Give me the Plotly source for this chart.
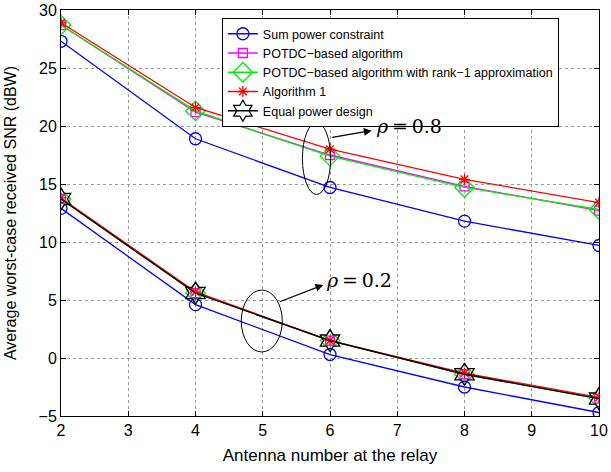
import plotly.graph_objects as go

antennas = [2, 4, 6, 8, 10]

# rho = 0.8
sum_power_08 = [27.3, 18.9, 14.7, 11.8, 9.7]
potdc_08 = [28.7, 21.2, 17.5, 14.8, 12.7]
rank1_08 = [28.7, 21.3, 17.4, 14.7, 12.8]
alg1_08 = [28.9, 21.6, 18.0, 15.4, 13.4]

# rho = 0.2
sum_power_02 = [12.9, 4.6, 0.3, -2.5, -4.7]
potdc_02 = [13.7, 5.6, 1.5, -1.4, -3.5]
rank1_02 = [13.7, 5.6, 1.5, -1.4, -3.5]
alg1_02 = [13.8, 5.7, 1.5, -1.3, -3.4]
equal_02 = [13.7, 5.6, 1.5, -1.4, -3.5]

x_ticks = [2, 3, 4, 5, 6, 7, 8, 9, 10]
y_ticks = [-5, 0, 5, 10, 15, 20, 25, 30]

series = [
    ("Sum power constraint", sum_power_08, sum_power_02, "#0000ff", "circle-open", 12),
    ("POTDC\u2212based algorithm", potdc_08, potdc_02, "#ff00ff", "square-open", 9),
    ("POTDC\u2212based algorithm with rank\u22121 approximation", rank1_08, rank1_02, "#00ee00", "diamond-open", 15),
    ("Algorithm 1", alg1_08, alg1_02, "#ff0000", "asterisk-open", 9),
]

fig = go.Figure()
for name, y08, y02, color, sym, size in series:
    fig.add_trace(go.Scatter(
        x=antennas, y=y08, name=name, mode="lines+markers",
        line=dict(color=color, width=1.3),
        marker=dict(symbol=sym, size=size, color=color, line=dict(color=color, width=1.3)),
        showlegend=True))
    fig.add_trace(go.Scatter(
        x=antennas, y=y02, name=name, mode="lines+markers",
        line=dict(color=color, width=1.3),
        marker=dict(symbol=sym, size=size, color=color, line=dict(color=color, width=1.3)),
        showlegend=False))

fig.add_trace(go.Scatter(
    x=antennas, y=equal_02, name="Equal power design", mode="lines+markers",
    line=dict(color="black", width=1.3),
    marker=dict(symbol="hexagram-open", size=17, color="black", line=dict(color="black", width=1.3)),
    showlegend=True))

# ellipses
fig.add_shape(type="circle", xref="x", yref="y", x0=5.59, x1=6.01, y0=14.1, y1=20.3,
              line=dict(color="black", width=1))
fig.add_shape(type="circle", xref="x", yref="y", x0=4.68, x1=5.29, y0=0.52, y1=5.86,
              line=dict(color="black", width=1))

# arrows
fig.add_annotation(x=6.62, y=19.6, ax=6.01, ay=19.0, xref="x", yref="y", axref="x", ayref="y",
                   showarrow=True, arrowhead=2, arrowsize=1.2, arrowwidth=1.3, arrowcolor="black", text="")
fig.add_annotation(x=5.9, y=6.3, ax=5.23, ay=4.8, xref="x", yref="y", axref="x", ayref="y",
                   showarrow=True, arrowhead=2, arrowsize=1.2, arrowwidth=1.3, arrowcolor="black", text="")
fig.add_annotation(x=6.66, y=20.0, xref="x", yref="y", text="<i>\u03c1</i>\u2009=\u20090.8", showarrow=False,
                   xanchor="left", yanchor="middle",
                   font=dict(family="DejaVu Serif", size=19, color="black"))
fig.add_annotation(x=5.91, y=6.7, xref="x", yref="y", text="<i>\u03c1</i>\u2009=\u20090.2", showarrow=False,
                   xanchor="left", yanchor="middle",
                   font=dict(family="DejaVu Serif", size=19, color="black"))

axis_common = dict(
    showline=True, linecolor="black", linewidth=1, mirror="ticks",
    ticks="inside", ticklen=5, tickcolor="black",
    showgrid=True, gridcolor="#999999", griddash="dot", gridwidth=1,
    zeroline=False, automargin=False,
    tickfont=dict(family="Liberation Sans", size=16, color="black"),
)

fig.update_xaxes(range=[2, 10], tickvals=x_ticks,
                 title=dict(text="Antenna number at the relay", standoff=10,
                            font=dict(family="Liberation Sans", size=17, color="black")),
                 **axis_common)
fig.update_yaxes(range=[-5, 30], tickvals=y_ticks, ticktext=[str(v).replace("-", "\u2212") for v in y_ticks],
                 title=dict(text="Average worst-case received SNR (dBW)", standoff=17,
                            font=dict(family="Liberation Sans", size=16, color="black")),
                 **axis_common)

fig.update_layout(
    width=611, height=472,
    margin=dict(l=61, r=12, t=10, b=56, autoexpand=False),
    paper_bgcolor="white", plot_bgcolor="white",
    legend=dict(x=0.299, y=0.980, xanchor="left", yanchor="top",
                bgcolor="white", bordercolor="black", borderwidth=1,
                font=dict(family="Liberation Sans", size=12.5, color="black"),
                tracegroupgap=0, itemwidth=30),
    showlegend=True,
)

fig.write_html("out.html", config={"displayModeBar": False},
               post_script="document.body.style.margin='0';document.body.style.overflow='hidden';")
